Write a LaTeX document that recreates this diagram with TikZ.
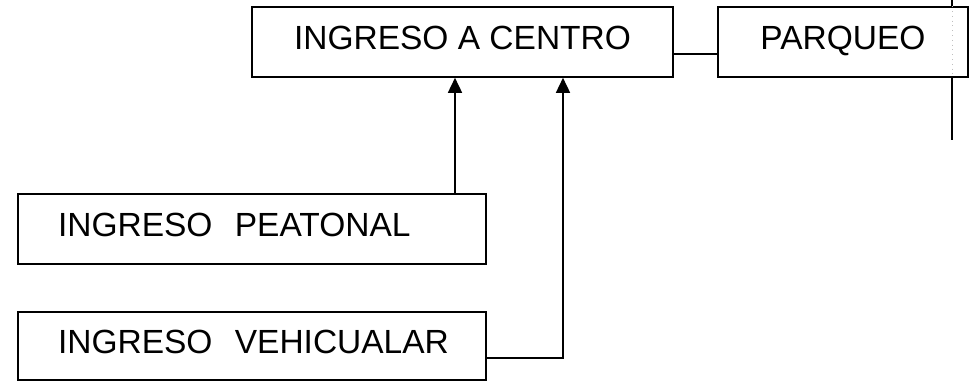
\documentclass[tikz,border=0pt]{standalone}
\usepackage{fontspec}
\setmainfont{Liberation Sans}
\usetikzlibrary{arrows.meta}
\begin{document}
\begin{tikzpicture}[x=0.5pt,y=-0.5pt,
  box/.style={draw,line width=0.8pt,inner sep=0pt,minimum height=35pt,
    text height=12pt,text depth=5pt,font=\fontsize{16.75}{20}\selectfont},
  lbox/.style={box,inner xsep=20pt,text width=194pt,align=left,minimum width=234pt},
  conn/.style={line width=0.8pt},
  arr/.style={conn,-{Triangle[length=7.5pt,width=7pt]}}]
\useasboundingbox (0,0) rectangle (974,381);
\node[box,minimum width=210.5pt] (centro) at (462.5,42) {INGRESO A CENTRO};
\node[box,minimum width=125pt] (parqueo) at (843,42) {PARQUEO};
\node[lbox] (peat) at (252,229) {\mbox{INGRESO\ \ PEATONAL}};
\node[lbox,minimum height=34pt] (vehic) at (252,346) {\mbox{INGRESO\ \ VEHICUALAR}};
\coordinate (vbend) at (563,358);
\coordinate (rtop) at (952,0);
\coordinate (rbot) at (952,140);
\draw[arr] (peat.north -| 455,0) -- (centro.south -| 455,0);
\draw[arr] (vehic.east |- vbend) -- (vbend) -- (centro.south -| vbend);
\draw[conn] (centro.east |- 0,54) -- (parqueo.west |- 0,54);
\draw[conn] (rtop) -- (parqueo.north -| rtop);
\draw[conn] (parqueo.south -| rtop) -- (rbot);
\draw[gray!50,dotted,line width=0.4pt] (parqueo.north -| rtop) -- (parqueo.south -| rtop);
\end{tikzpicture}
\end{document}
